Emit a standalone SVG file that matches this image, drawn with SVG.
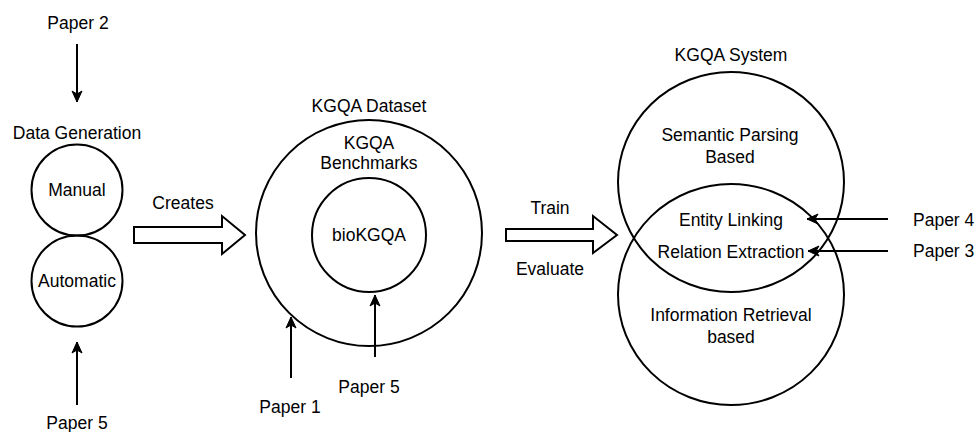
<svg xmlns="http://www.w3.org/2000/svg" width="978" height="432" viewBox="0 0 978 432">
  <style>
    text { font-family: "Liberation Sans", Arial, sans-serif; font-size: 17.5px; fill: #000; text-anchor: middle; dominant-baseline: central; }
    .shape { fill: none; stroke: #000; stroke-width: 2; }
    .block { fill: #fff; stroke: #000; stroke-width: 2; stroke-linejoin: miter; }
    .edge { fill: none; stroke: #000; stroke-width: 2; marker-end: url(#head); }
    .start { text-anchor: start; }
  </style>
  <defs>
    <marker id="head" markerWidth="13" markerHeight="13" viewBox="0 0 13 13" refX="12" refY="6.5" orient="auto" markerUnits="userSpaceOnUse">
      <path d="M1,1.5 L12,6.5 L1,11.5 L4,6.5 z" fill="#000" stroke="#000" stroke-width="1"/>
    </marker>
  </defs>
  <rect width="978" height="432" fill="#fff"/>

  <!-- Data generation -->
  <g id="data-generation">
    <text x="77" y="133">Data Generation</text>
  </g>
  <g id="manual">
    <circle class="shape" cx="77" cy="190" r="45.5"/>
    <text x="77" y="190">Manual</text>
  </g>
  <g id="automatic">
    <circle class="shape" cx="77" cy="281" r="45.5"/>
    <text x="77" y="281">Automatic</text>
  </g>
  <g id="paper2"><text x="78" y="23">Paper 2</text></g>
  <g id="paper5-left"><text x="77" y="423">Paper 5</text></g>

  <!-- Dataset -->
  <g id="kgqa-dataset">
    <text x="369" y="106">KGQA Dataset</text>
    <circle class="shape" cx="369" cy="233" r="113"/>
    <text x="369" y="143">KGQA</text>
    <text x="369" y="163">Benchmarks</text>
  </g>
  <g id="biokgqa">
    <circle class="shape" cx="369" cy="235" r="57"/>
    <text x="369" y="235">bioKGQA</text>
  </g>
  <g id="paper1"><text x="290" y="407">Paper 1</text></g>
  <g id="paper5-mid"><text x="369" y="387">Paper 5</text></g>

  <!-- System -->
  <g id="kgqa-system">
    <text x="731" y="55">KGQA System</text>
  </g>
  <g id="semantic-parsing">
    <ellipse class="shape" cx="731" cy="182" rx="113" ry="110"/>
    <text x="730" y="135">Semantic Parsing</text>
    <text x="730" y="157">Based</text>
  </g>
  <g id="information-retrieval">
    <ellipse class="shape" cx="731" cy="294.5" rx="113" ry="110.5"/>
    <text x="731" y="315">Information Retrieval</text>
    <text x="731" y="337">based</text>
  </g>
  <g id="shared">
    <text x="731" y="220">Entity Linking</text>
    <text x="731" y="252">Relation Extraction</text>
  </g>
  <g id="paper4"><text class="start" x="913" y="220">Paper 4</text></g>
  <g id="paper3"><text class="start" x="913" y="251">Paper 3</text></g>

  <!-- Connectors -->
  <g id="connectors">
    <line class="edge" x1="77" y1="44" x2="77" y2="102"/>
    <line class="edge" x1="77" y1="405" x2="77" y2="342"/>
    <line class="edge" x1="291" y1="378" x2="291" y2="317"/>
    <line class="edge" x1="375" y1="357" x2="375" y2="295"/>
    <line class="edge" x1="888" y1="219" x2="807" y2="219"/>
    <line class="edge" x1="888" y1="251" x2="808" y2="251"/>

    <polygon class="block" points="134,227 222,227 222,216 245,235 222,254 222,243 134,243"/>
    <text x="183" y="203">Creates</text>

    <polygon class="block" points="506,229 593,229 593,216 617,235 593,253 593,241 506,241"/>
    <text x="550" y="208">Train</text>
    <text x="550" y="269">Evaluate</text>
  </g>
</svg>
